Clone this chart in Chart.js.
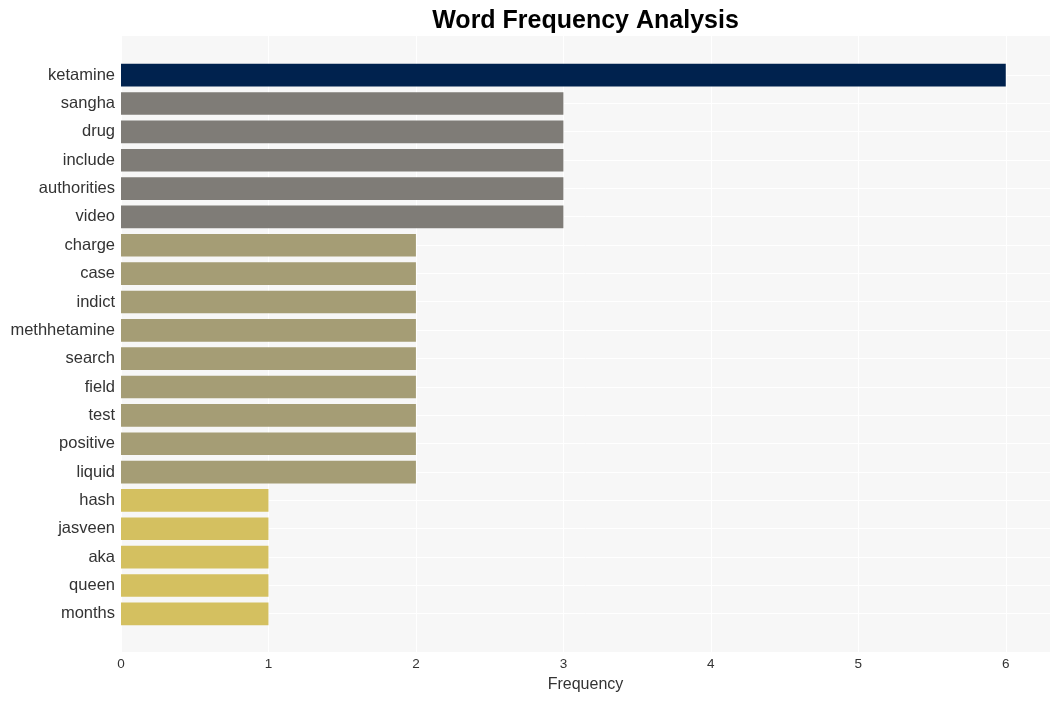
<!DOCTYPE html>
<html>
<head>
<meta charset="utf-8">
<script src="https://cdn.jsdelivr.net/npm/chart.js@4/dist/chart.umd.min.js"></script>
<style>
  html, body { margin: 0; padding: 0; background: #fff; }
  #wrap { width: 1060px; height: 701px; position: relative; }
</style>
</head>
<body>
<div id="wrap"><canvas id="freqChart"></canvas></div>
<script>
// Word counts
const words = ['ketamine', 'sangha', 'drug', 'include', 'authorities', 'video', 'charge', 'case', 'indict',
  'methhetamine', 'search', 'field', 'test', 'positive', 'liquid', 'hash', 'jasveen', 'aka', 'queen', 'months'];
const counts = [6, 3, 3, 3, 3, 3, 2, 2, 2, 2, 2, 2, 2, 2, 2, 1, 1, 1, 1, 1];
const xTicks = [0, 1, 2, 3, 4, 5, 6];

const chartTitle = 'Word Frequency Analysis';
const xTitle = 'Frequency';

function barColor(v) {
  if (v >= 6) return '#00224e';
  if (v >= 3) return '#7f7c77';
  if (v >= 2) return '#a59d75';
  return '#d4c060';
}

Chart.defaults.font.family = "'Liberation Sans', Arial, sans-serif";
Chart.defaults.color = '#333';

// Panel background + vertical grid extend a bit past the bar bands
const panelPlugin = {
  id: 'panel',
  beforeDraw(chart) {
    const { ctx, chartArea, scales } = chart;
    const top = chartArea.top - 25;
    const bottom = chartArea.bottom + 24;
    ctx.save();
    ctx.fillStyle = '#f7f7f7';
    ctx.fillRect(chartArea.left, top, chartArea.right - chartArea.left, bottom - top);
    ctx.strokeStyle = '#ffffff';
    ctx.lineWidth = 1;
    scales.x.ticks.forEach(t => {
      const x = Math.round(scales.x.getPixelForValue(t.value)) + 0.5;
      ctx.beginPath();
      ctx.moveTo(x, top);
      ctx.lineTo(x, bottom);
      ctx.stroke();
    });
    ctx.restore();
  },
  afterDraw(chart) {
    const { ctx, chartArea } = chart;
    ctx.save();
    ctx.fillStyle = '#000';
    ctx.font = "bold 25px 'Liberation Sans', Arial, sans-serif";
    ctx.textAlign = 'center';
    ctx.textBaseline = 'middle';
    ctx.fillText(chartTitle, (chartArea.left + chartArea.right) / 2, 21);
    ctx.restore();
  }
};

new Chart(document.getElementById('freqChart'), {
  type: 'bar',
  data: {
    labels: words,
    datasets: [{
      data: counts,
      backgroundColor: counts.map(barColor),
      borderWidth: 0,
      barPercentage: 0.8,
      categoryPercentage: 1.0
    }]
  },
  options: {
    indexAxis: 'y',
    responsive: true,
    maintainAspectRatio: false,
    animation: false,
    layout: { padding: { top: 61, right: 10, bottom: 4, left: 0 } },
    plugins: {
      legend: { display: false },
      tooltip: { enabled: false }
    },
    scales: {
      x: {
        type: 'linear',
        min: 0,
        max: 6.3,
        afterBuildTicks(scale) {
          scale.ticks = xTicks.map(v => ({ value: v }));
        },
        afterFit(scale) { scale.height = 69; },
        grid: { display: false, drawTicks: false },
        border: { display: false },
        ticks: { padding: 28, font: { size: 13.5 }, color: '#333' },
        title: { display: true, text: xTitle, font: { size: 16 }, color: '#333', padding: { top: 4, bottom: 3 } }
      },
      y: {
        grid: { color: '#ffffff', lineWidth: 1, offset: false, drawTicks: false },
        border: { display: false },
        afterFit(scale) { scale.width = 121; },
        ticks: { padding: 6, font: { size: 16.5 }, color: '#333', autoSkip: false }
      }
    }
  },
  plugins: [panelPlugin]
});
</script>
</body>
</html>
